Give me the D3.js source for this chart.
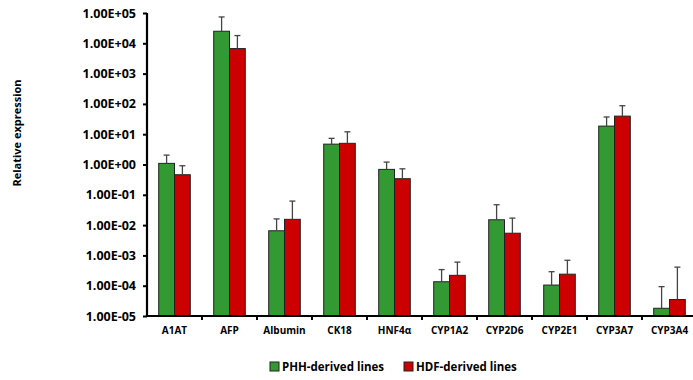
<!DOCTYPE html>
<html>
<head>
<meta charset="utf-8">
<script src="https://cdn.jsdelivr.net/npm/d3@7"></script>
<style>
  body { margin: 0; background: #fff; }
  text { font-family: "Open Sans", "Liberation Sans", sans-serif; font-weight: bold; fill: #000; }
</style>
</head>
<body>
<svg width="693" height="380"></svg>
<script>
// genes on the x axis
const genes = ['A1AT', 'AFP', 'Albumin', 'CK18', 'HNF4\u03b1', 'CYP1A2', 'CYP2D6', 'CYP2E1', 'CYP3A7', 'CYP3A4'];
const seriesNames = ['PHH-derived lines', 'HDF-derived lines'];
// mean values and error-bar tops
const phhValues = [1.09, 2.5e4, 0.0065, 4.7, 0.69, 1.35e-4, 0.015, 1.05e-4, 18.5, 1.8e-5];
const phhErrTop = [2.04, 7.4e4, 0.016, 7.3, 1.2, 3.4e-4, 0.047, 2.9e-4, 37, 9.3e-5];
const hdfValues = [0.46, 6.7e3, 0.0155, 5.0, 0.34, 2.2e-4, 0.0054, 2.4e-4, 39.5, 3.5e-5];
const hdfErrTop = [0.91, 1.8e4, 0.062, 12, 0.72, 6.0e-4, 0.017, 6.9e-4, 87, 4.1e-4];
const yTicks = [1e-5, 1e-4, 1e-3, 1e-2, 1e-1, 1, 1e1, 1e2, 1e3, 1e4, 1e5];
const colors = ['#339933', '#cc0000'];

const svg = d3.select('svg');
const margin = {top: 13, left: 147, bottom: 64};
const plotW = 550;
const plotH = 380 - margin.top - margin.bottom;

const g = svg.append('g')
  .attr('transform', `translate(${margin.left},${margin.top})`);

const x = d3.scaleBand().domain(genes).range([0, plotW]).paddingInner(0).paddingOuter(0);
const x1 = d3.scaleBand().domain([0, 1]).range([11.7, x.bandwidth() - 11.7]);
const y = d3.scaleLog().domain([1e-5, 1e5]).range([plotH, 0]);

const fmt = v => {
  const e = Math.round(Math.log10(v));
  return '1.00E' + (e < 0 ? '-' : '+') + String(Math.abs(e)).padStart(2, '0');
};

// bars
const series = [
  {vals: phhValues, errs: phhErrTop},
  {vals: hdfValues, errs: hdfErrTop}
];
series.forEach((s, si) => {
  const grp = g.append('g');
  grp.selectAll('rect').data(genes).enter().append('rect')
    .attr('x', d => x(d) + x1(si))
    .attr('width', x1.bandwidth())
    .attr('y', (d, i) => y(s.vals[i]))
    .attr('height', (d, i) => plotH - y(s.vals[i]))
    .attr('fill', colors[si])
    .attr('stroke', '#222')
    .attr('stroke-width', 1);
  // error bars
  const cx = d => x(d) + x1(si) + x1.bandwidth() / 2;
  grp.selectAll('line.err').data(genes).enter().append('line')
    .attr('x1', cx).attr('x2', cx)
    .attr('y1', (d, i) => y(s.vals[i]))
    .attr('y2', (d, i) => y(s.errs[i]))
    .attr('stroke', '#444').attr('stroke-width', 1.3);
  grp.selectAll('line.cap').data(genes).enter().append('line')
    .attr('x1', d => cx(d) - 3).attr('x2', d => cx(d) + 3)
    .attr('y1', (d, i) => y(s.errs[i]))
    .attr('y2', (d, i) => y(s.errs[i]))
    .attr('stroke', '#444').attr('stroke-width', 1.3);
});

// y axis
const yAxis = g.append('g')
  .call(d3.axisLeft(y).tickValues(yTicks).tickFormat(fmt).tickSize(4).tickPadding(7));
yAxis.select('.domain').attr('stroke-width', 2.2).attr('d', `M0,${plotH}V0`);
yAxis.selectAll('.tick line').attr('stroke-width', 2);
yAxis.selectAll('text').style('font-size', '12.5px');

// x axis
const xAxis = g.append('g')
  .attr('transform', `translate(0,${plotH})`)
  .call(d3.axisBottom(x).tickSize(0).tickPadding(11));
xAxis.select('.domain').attr('stroke-width', 2.2).attr('d', `M0,0H${plotW}`);
xAxis.selectAll('text').style('font-size', '10px');
xAxis.selectAll('.sep').data(genes.slice(1)).enter().append('line')
  .attr('x1', d => x(d)).attr('x2', d => x(d))
  .attr('y1', 0).attr('y2', 4)
  .attr('stroke', '#000').attr('stroke-width', 2);

// y title
svg.append('text')
  .attr('transform', 'translate(21,133) rotate(-90)')
  .attr('text-anchor', 'middle')
  .style('font-size', '11px')
  .text('Relative expression');

// legend
const legendX = [270, 404];
seriesNames.forEach((name, i) => {
  svg.append('rect')
    .attr('x', legendX[i]).attr('y', 362)
    .attr('width', 9).attr('height', 9)
    .attr('fill', colors[i]).attr('stroke', '#222').attr('stroke-width', 1);
  svg.append('text')
    .attr('x', legendX[i] + 12).attr('y', 371)
    .style('font-size', '11.5px')
    .text(name);
});
</script>
</body>
</html>
